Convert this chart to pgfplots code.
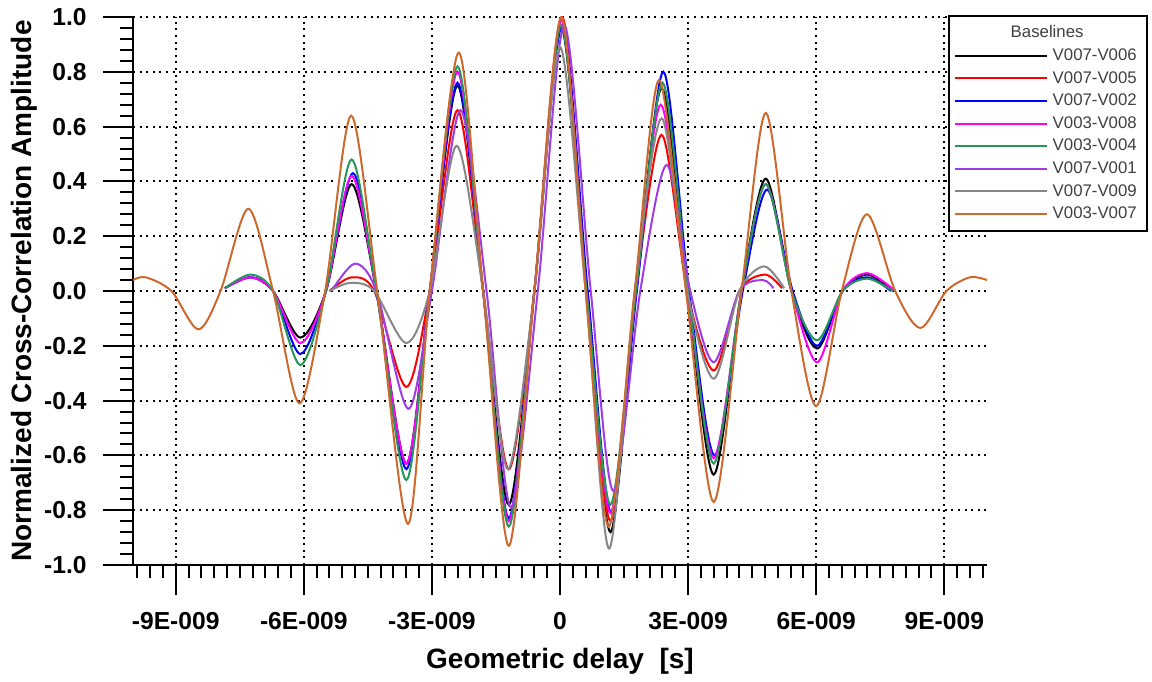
\documentclass[border=0pt]{standalone}
\usepackage{fontspec}
\setmainfont{Liberation Sans}
\usepackage{pgfplots}
\pgfplotsset{compat=1.18}
\definecolor{cblack}{RGB}{0,0,0}
\definecolor{cred}{RGB}{255,0,0}
\definecolor{cblue}{RGB}{0,0,255}
\definecolor{cmag}{RGB}{255,0,255}
\definecolor{cgreen}{RGB}{40,150,90}
\definecolor{cpurple}{RGB}{160,60,230}
\definecolor{cgray}{RGB}{135,135,135}
\definecolor{corange}{RGB}{205,105,45}
\begin{document}
\begin{tikzpicture}
\begin{axis}[
  scale only axis, width=427pt, height=274pt,
  xmin=-10, xmax=10, ymin=-1, ymax=1,
  axis x line=bottom, axis y line=left,
  axis line style={-, line width=1pt},
  xtick={-9,-6,-3,0,3,6,9},
  xticklabels={-9E-009,-6E-009,-3E-009,0,3E-009,6E-009,9E-009},
  minor xtick={-9.9,-9.6,...,9.95},
  ytick={-1,-0.8,-0.6,-0.4,-0.2,0,0.2,0.4,0.6,0.8,1},
  yticklabels={-1.0,-0.8,-0.6,-0.4,-0.2,0.0,0.2,0.4,0.6,0.8,1.0},
  minor y tick num=4,
  tick align=outside,
  major tick length=15pt, minor tick length=6.5pt,
  every tick/.style={line width=1pt, black},
  grid=major,
  major grid style={black, line width=1pt, dash pattern=on 1pt off 2.3pt},
  ticklabel style={font=\fontsize{12.3}{14}\selectfont\bfseries},
  yticklabel style={anchor=east, inner sep=0pt, xshift=-8pt},
  xticklabel style={anchor=north, inner sep=0pt, yshift=-8.5pt},
  xlabel={Geometric delay\ \ [s]},
  ylabel={Normalized Cross-Correlation Amplitude},
  label style={font=\fontsize{14}{16}\selectfont\bfseries},
  xlabel style={at={(axis description cs:0.5,-0.175)}, anchor=center},
  ylabel style={at={(axis description cs:-0.127,0.5)}, anchor=center, rotate=0},
  legend style={at={(axis description cs:0.954,1.004)}, anchor=north west,
    draw=black, line width=1pt, fill=white,
    font=\fontsize{8.4}{9.5}\selectfont, text=black!75,
    cells={anchor=west},
    nodes={text height=6.2pt, text depth=1.5pt, inner ysep=1.8pt, inner xsep=2.5pt},
    inner xsep=2.5pt, inner ysep=3pt, row sep=0pt},
  legend image code/.code={\draw[#1, line width=1pt] (0pt,0pt) -- (46pt,0pt);},
  every axis plot/.append style={line width=1pt, smooth},
]
\addlegendimage{empty legend}
\addlegendentry{\hspace*{-21pt}Baselines}

\addplot[cblack] coordinates {
(-7.85,0.01) (-7.25,0.05) (-6.72,0) (-6.08,-0.17) (-5.48,0) (-4.88,0.39) (-4.3,0) (-3.6,-0.63) (-3.05,0) (-2.4,0.75) (-1.8,0) (-1.2,-0.78) (-0.6,0) (0.03,0.96) (0.62,0) (1.18,-0.88) (1.78,0) (2.38,0.74) (2.98,0) (3.6,-0.67) (4.25,0) (4.82,0.41) (5.42,0) (6.02,-0.21) (6.62,0) (7.2,0.06) (7.8,0.0)};
\addlegendentry{V007-V006}

\addplot[cred] coordinates {
(-5.4,0.0) (-4.88,0.05) (-4.35,0) (-3.6,-0.35) (-3.05,0) (-2.4,0.66) (-1.8,0) (-1.2,-0.65) (-0.6,0) (0.05,1.0) (0.62,0) (1.18,-0.84) (1.78,0) (2.38,0.57) (2.98,0) (3.6,-0.29) (4.2,0) (4.8,0.06) (5.2,0.01)};
\addlegendentry{V007-V005}

\addplot[cblue] coordinates {
(-7.85,0.01) (-7.25,0.05) (-6.72,0) (-6.08,-0.23) (-5.48,0) (-4.85,0.43) (-4.3,0) (-3.6,-0.65) (-3.05,0) (-2.4,0.76) (-1.8,0) (-1.2,-0.83) (-0.6,0) (0.05,0.97) (0.65,0) (1.2,-0.81) (1.8,0) (2.42,0.80) (3.02,0) (3.62,-0.60) (4.28,0) (4.85,0.37) (5.45,0) (6.02,-0.20) (6.62,0) (7.2,0.05) (7.75,0.0)};
\addlegendentry{V007-V002}

\addplot[cmag] coordinates {
(-7.85,0.01) (-7.25,0.05) (-6.72,0) (-6.08,-0.19) (-5.48,0) (-4.88,0.42) (-4.3,0) (-3.6,-0.63) (-3.05,0) (-2.4,0.80) (-1.8,0) (-1.2,-0.84) (-0.6,0) (0.03,0.99) (0.62,0) (1.18,-0.81) (1.78,0) (2.36,0.68) (2.98,0) (3.6,-0.61) (4.25,0) (4.82,0.39) (5.42,0) (6.02,-0.26) (6.62,0) (7.2,0.065) (7.85,0.0)};
\addlegendentry{V003-V008}

\addplot[cgreen] coordinates {
(-7.85,0.01) (-7.25,0.06) (-6.72,0) (-6.08,-0.27) (-5.48,0) (-4.88,0.48) (-4.3,0) (-3.6,-0.69) (-3.05,0) (-2.4,0.82) (-1.8,0) (-1.2,-0.86) (-0.6,0) (0.03,0.97) (0.62,0) (1.18,-0.78) (1.78,0) (2.4,0.76) (3.0,0) (3.6,-0.63) (4.25,0) (4.82,0.39) (5.42,0) (6.02,-0.18) (6.62,0) (7.2,0.045) (7.8,0.0)};
\addlegendentry{V003-V004}

\addplot[cpurple] coordinates {
(-5.35,0.0) (-4.8,0.10) (-4.3,0) (-3.55,-0.43) (-3.0,0) (-2.33,0.66) (-1.72,0) (-1.15,-0.79) (-0.52,0) (0.1,0.97) (0.72,0) (1.25,-0.73) (1.88,0) (2.5,0.46) (3.05,0) (3.6,-0.26) (4.2,0) (4.75,0.04) (5.0,0.01)};
\addlegendentry{V007-V001}

\addplot[cgray] coordinates {
(-5.4,0.0) (-4.9,0.03) (-4.35,0) (-3.6,-0.19) (-3.05,0) (-2.42,0.53) (-1.8,0) (-1.22,-0.65) (-0.6,0) (0.0,0.89) (0.6,0) (1.15,-0.94) (1.75,0) (2.38,0.63) (2.98,0) (3.6,-0.32) (4.2,0) (4.78,0.09) (5.25,0.01)};
\addlegendentry{V007-V009}

\addplot[corange] coordinates {
(-10,0.04) (-9.7,0.05) (-9.1,0) (-8.47,-0.14) (-7.95,0) (-7.3,0.30) (-6.72,0) (-6.1,-0.41) (-5.5,0) (-4.89,0.64) (-4.28,0) (-3.56,-0.85) (-3.05,0) (-2.37,0.87) (-1.8,0) (-1.2,-0.93) (-0.6,0) (0.03,1.0) (0.6,0) (1.14,-0.86) (1.75,0) (2.32,0.77) (2.95,0) (3.6,-0.77) (4.25,0) (4.82,0.65) (5.42,0) (6.0,-0.42) (6.6,0) (7.19,0.28) (7.85,0) (8.44,-0.135) (9.05,0) (9.6,0.05) (10,0.04)};
\addlegendentry{V003-V007}
\end{axis}
\pgfresetboundingbox
\path (-66.5pt,-58pt) rectangle (509.5pt,282.5pt);
\end{tikzpicture}
\end{document}
